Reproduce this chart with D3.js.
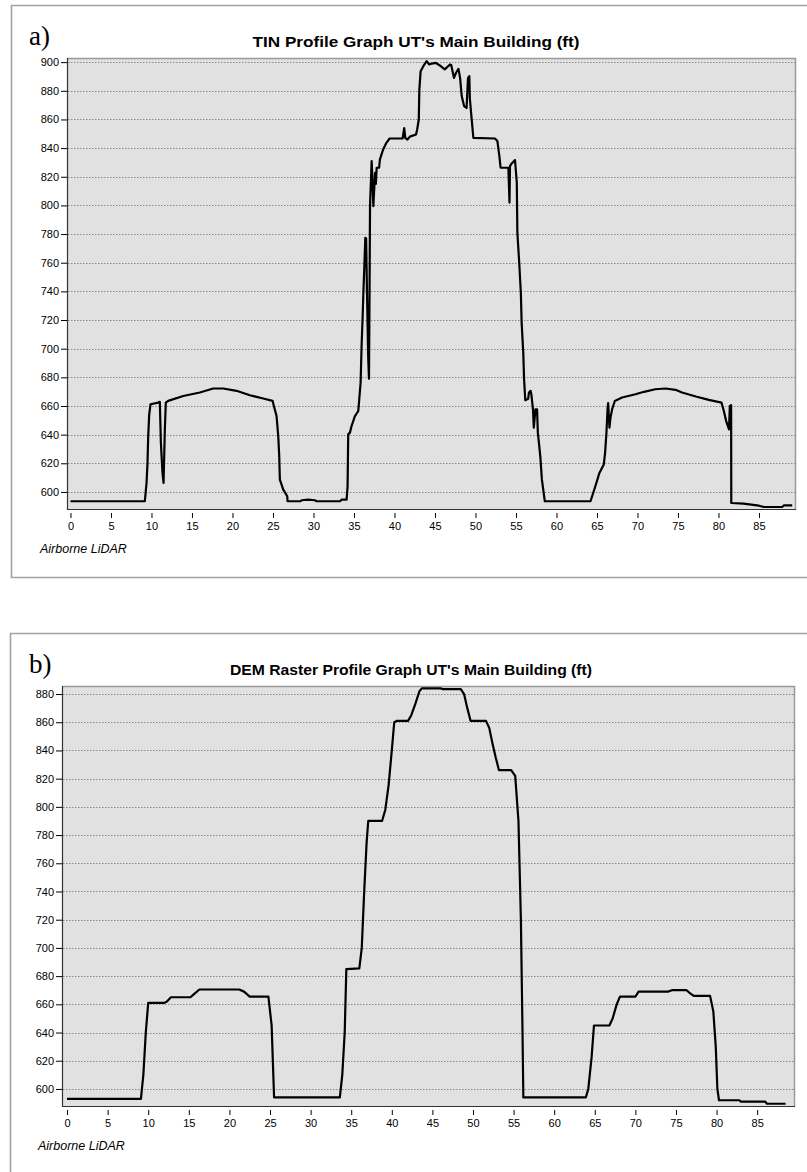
<!DOCTYPE html>
<html>
<head>
<meta charset="utf-8">
<script src="https://cdn.jsdelivr.net/npm/d3@7"></script>
<style>
  body { margin: 0; background: #fff; }
  svg { display: block; }
  .tick text { font-family: "Liberation Sans", Arial, sans-serif; font-size: 11px; fill: #000; }
  .tick line { stroke: #000; }
</style>
</head>
<body>
<div class="c_chart"></div>
<script>
/* DATA
------------------------------------------------------ */
// TIN profile (distance, elevation ft)
const tinDist = [0, 9.18, 9.39, 9.51, 9.59, 9.72, 9.88, 10.83, 11.03, 11.16, 11.36, 11.49, 11.65, 11.77, 12.06,
  13.92, 15.97, 17.62, 18.86, 20.5, 22.15, 23.8, 24.95, 25.11, 25.44, 25.65, 25.77, 25.85, 26.27, 26.76, 26.8,
  28.4, 28.53, 29.35, 30.18, 30.38, 33.26, 33.47, 34.09, 34.21, 34.29, 34.5, 34.7, 35.12, 35.53, 35.65, 35.82,
  35.94, 36.06, 36.16, 36.28, 36.4, 36.5, 36.6, 36.75, 36.85, 36.9, 36.98, 37.1, 37.18, 37.3, 37.39, 37.6, 37.7,
  37.8, 38.1, 38.2, 38.4, 38.6, 39.0, 39.4, 41.0, 41.2, 41.34, 41.6, 41.9, 42.66, 42.8, 43.0, 43.07, 43.23, 43.56,
  43.97, 44.3, 44.6, 45.1, 45.6, 46.2, 46.85, 47.0, 47.35, 47.6, 47.9, 48.1, 48.3, 48.6, 48.9, 49.08, 49.24, 49.3,
  49.53, 49.74, 52.4, 52.7, 52.95, 53.1, 54.06, 54.2, 54.26, 54.47, 54.88, 55.1, 55.17, 55.4, 55.6, 55.7, 55.9,
  56.0, 56.15, 56.5, 56.6, 56.8, 56.9, 57.1, 57.2, 57.4, 57.6, 57.7, 58.0, 58.2, 58.56, 64.2, 64.8, 65.3, 65.84,
  66.0, 66.17, 66.3, 66.38, 66.54, 66.67, 66.87, 67.2, 68.1, 69.75, 70.8, 72.2, 73.46, 74.7, 75.5, 77.2, 78.8,
  80.37, 80.66, 80.95, 81.3, 81.4, 81.56, 81.58, 83.1, 85.0, 85.6, 87.86, 88.06, 89.1];
const tinElev = [593.5, 593.5, 606.3, 620.3, 637.9, 654.2, 661.2, 662.4, 662.9, 634.3, 613.3, 606.3, 643.7, 662.4, 663.6,
  667, 669.4, 672.2, 672.2, 670.6, 667.5, 665.2, 663.6, 660, 653, 639, 625, 608.6, 601.6, 597, 593.5,
  593.5, 594.2, 594.6, 594.2, 593.5, 593.5, 594.6, 594.6, 604, 640.2, 641.4, 646, 653, 656.5, 664.7, 676.4,
  702, 720.8, 739, 757.7, 777.4, 777, 741, 695, 679, 720, 799.5, 818, 831, 815, 799.5, 822.8, 815,
  826.3, 826.3, 832, 835.6, 839, 843.7, 846.7, 846.7, 854, 847, 846, 848, 849.5, 853, 860, 881, 893.7, 897.2,
  900.7, 898.4, 899, 899.5, 897.7, 895, 898.4, 898, 889, 892.6, 895.3, 889, 876.3, 869.3, 868, 889, 890.2, 875,
  860, 847.2, 846.7, 845, 834.4, 826.3, 826.3, 802, 827.4, 829.3, 831.6, 815.8, 781, 760, 739, 718, 697,
  678.6, 664, 665, 669.4, 670.6, 668, 657.7, 644.9, 657.7, 657.7, 641.4, 625, 608.6, 593.5, 593.5, 604, 613.3, 619.2,
  627.3, 641.4, 657.7, 662, 644.9, 651.9, 657.7, 663.5, 665.9, 668.2, 669.9, 671.7, 672.2, 671.3, 669.4, 666.6, 664.3,
  662.4, 656.5, 649.5, 643.7, 660, 660.5, 592.3, 591.8, 590.4, 589.5, 589.5, 590.6, 590.6];

// DEM raster profile (distance, elevation ft)
const demDist = [0, 9.1, 9.4, 9.7, 10.0, 12.0, 12.3, 12.8, 15.2, 15.6, 16.3, 21.2, 21.8, 22.5, 24.8, 25.2, 25.5,
  33.6, 33.9, 34.2, 34.4, 36.0, 36.3, 36.6, 36.9, 37.1, 38.8, 39.2, 39.6, 40.0, 40.3, 40.6, 42.0, 42.4, 42.9,
  43.4, 43.7, 46.0, 46.3, 48.5, 48.9, 49.3, 49.7, 51.6, 52.0, 52.4, 52.8, 53.2, 54.7, 55.2, 55.6, 55.9, 56.1,
  56.2, 63.9, 64.2, 64.6, 64.9, 66.8, 67.2, 67.7, 68.1, 70.0, 70.4, 74.0, 74.5, 76.3, 76.7, 77.2, 79.2, 79.6,
  79.9, 80.1, 80.3, 82.8, 83.0, 86.0, 86.2, 88.5];
const demElev = [593, 593, 610, 640, 661, 661, 662, 665, 665, 667, 670.5, 670.5, 669, 665.5, 665.5, 645, 594,
  594, 610, 640, 685, 685.5, 700, 740, 775, 790, 790, 798, 815, 840, 860, 861, 861, 865, 873,
  882, 884, 884, 883.5, 883.5, 880, 870, 861, 861, 856, 845, 835, 826, 826, 822, 790, 720, 640,
  594, 594, 600, 622, 645, 645, 650, 660, 665.5, 665.5, 669, 669, 670, 670, 668, 666, 666, 655,
  630, 600, 592, 592, 591, 591, 589.5, 589.5];

const yTicksA = d3.range(600, 901, 20);
const yTicksB = d3.range(600, 881, 20);
const xTicks = d3.range(0, 86, 5);

const titleA = "TIN Profile Graph UT's Main Building (ft)";
const titleB = "DEM Raster Profile Graph UT's Main Building (ft)";
const noteText = "Airborne LiDAR";

/* SVG
------------------------------------------------------ */
const width = 807, height = 1172;
const svg = d3.select(".c_chart").append("svg")
  .attr("width", width)
  .attr("height", height);

/* PANEL
------------------------------------------------------ */
function drawPanel(p) {
  const g = svg.append("g");

  // outer frame
  g.append("path")
    .attr("d", p.frameBottom != null
      ? `M${width + 2},${p.frameTop}H${p.frameLeft}V${p.frameBottom}H${width + 2}`
      : `M${width + 2},${p.frameTop}H${p.frameLeft}V${height + 2}`)
    .attr("fill", "none")
    .attr("stroke", "#a3a3a3")
    .attr("stroke-width", 1.6);

  g.append("text")
    .attr("x", p.letterX).attr("y", p.letterY)
    .style("font-family", "Liberation Serif, serif")
    .style("font-size", "27px")
    .text(p.letter);

  g.append("text")
    .attr("x", p.titleX).attr("y", p.titleY)
    .attr("text-anchor", "middle")
    .attr("textLength", p.titleLen)
    .attr("lengthAdjust", "spacingAndGlyphs")
    .style("font-family", "Liberation Sans, Arial, sans-serif")
    .style("font-weight", "bold")
    .style("font-size", "15.5px")
    .text(p.title);

  const x = d3.scaleLinear().domain(p.xDomain).range([p.left, p.right]);
  const y = d3.scaleLinear().domain(p.yDomain).range([p.bottom, p.top]);

  g.append("rect")
    .attr("x", p.left).attr("y", p.top)
    .attr("width", p.right - p.left).attr("height", p.bottom - p.top)
    .attr("fill", "#e1e1e1");

  // dotted gridlines
  g.selectAll("line.grid")
    .data(p.yTicks)
    .enter().append("line")
    .attr("class", "grid")
    .attr("x1", p.left + 1).attr("x2", p.right)
    .attr("y1", d => Math.round(y(d)) + 0.5).attr("y2", d => Math.round(y(d)) + 0.5)
    .attr("stroke", "#8a8a8a")
    .attr("stroke-dasharray", "1.5,1.5");

  // plot border: grey top/right, dark left/bottom
  g.append("path")
    .attr("d", `M${p.left},${p.top + 0.5}H${p.right - 0.5}V${p.bottom}`)
    .attr("fill", "none").attr("stroke", "#9a9a9a").attr("stroke-width", 1.5);
  g.append("path")
    .attr("d", `M${p.left + 0.5},${p.top}V${p.bottom - 0.5}H${p.right}`)
    .attr("fill", "none").attr("stroke", "#333").attr("stroke-width", 1.2);

  const yAxis = g.append("g")
    .attr("transform", `translate(${p.left},0)`)
    .call(d3.axisLeft(y).tickValues(p.yTicks).tickSize(6).tickPadding(2).tickFormat(d3.format("d")));
  yAxis.select(".domain").remove();

  const xAxis = g.append("g")
    .attr("transform", `translate(0,${p.bottom + 3})`)
    .call(d3.axisBottom(x).tickValues(xTicks).tickSize(5).tickPadding(4).tickFormat(d3.format("d")));
  xAxis.select(".domain").remove();

  const line = d3.line()
    .x((d, i) => x(p.dist[i]))
    .y(d => y(d));

  g.append("path")
    .datum(p.elev)
    .attr("d", line)
    .attr("fill", "none")
    .attr("stroke", "#000")
    .attr("stroke-width", 2.2)
    .attr("stroke-linejoin", "round");

  g.append("text")
    .attr("x", p.noteX).attr("y", p.noteY)
    .style("font-family", "Liberation Sans, Arial, sans-serif")
    .style("font-style", "italic")
    .style("font-size", "12.5px")
    .text(noteText);
}

drawPanel({
  frameTop: 5.5, frameLeft: 11.5, frameBottom: 577.5,
  letter: "a)", letterX: 29, letterY: 45,
  title: titleA, titleX: 416, titleY: 47, titleLen: 327,
  left: 67, right: 796, top: 58, bottom: 510,
  xDomain: [-0.43, 89.57], yDomain: [587.4, 902.9],
  yTicks: yTicksA, dist: tinDist, elev: tinElev,
  noteX: 40, noteY: 553
});

drawPanel({
  frameTop: 633.5, frameLeft: 10.5, frameBottom: null,
  letter: "b)", letterX: 29, letterY: 673,
  title: titleB, titleX: 411, titleY: 675, titleLen: 362,
  left: 62, right: 795, top: 686, bottom: 1107,
  xDomain: [-0.62, 89.66], yDomain: [587.2, 885.7],
  yTicks: yTicksB, dist: demDist, elev: demElev,
  noteX: 38, noteY: 1150
});
</script>
</body>
</html>
